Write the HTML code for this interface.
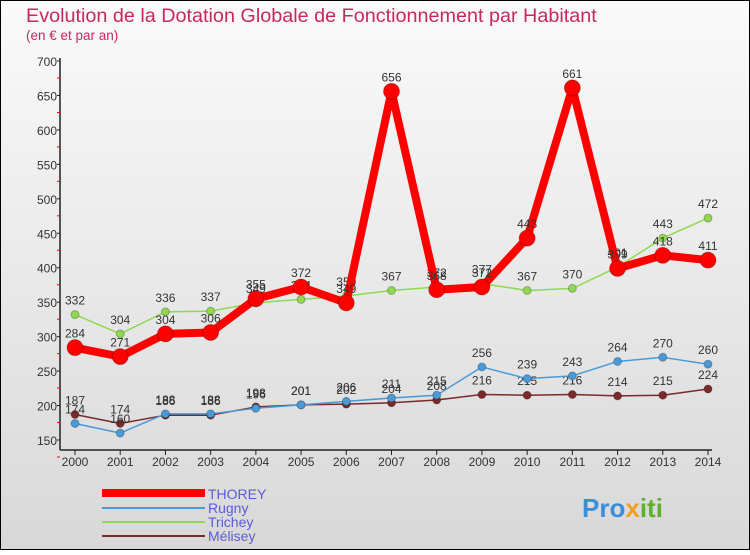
<!DOCTYPE html>
<html><head><meta charset="utf-8"><style>
body{margin:0;width:750px;height:550px;overflow:hidden;font-family:"Liberation Sans",sans-serif}
</style></head><body>
<svg width="750" height="550" xmlns="http://www.w3.org/2000/svg">
<defs><linearGradient id="bg" x1="0" y1="0" x2="0" y2="1"><stop offset="0" stop-color="#fafafa"/><stop offset="1" stop-color="#d8d8d8"/></linearGradient></defs>
<rect x="0.5" y="0.5" width="749" height="549" fill="url(#bg)" stroke="#000"/>
<text x="26" y="22" font-size="19.8" fill="#c8285a">Evolution de la Dotation Globale de Fonctionnement par Habitant</text>
<text x="26" y="40" font-size="13.5" fill="#c8285a">(en € et par an)</text>
<g id="axes"></g><g id="series"></g>
<g>
<line x1="102" y1="493" x2="205" y2="493" stroke="#f00" stroke-width="8"/>
<text x="208" y="499" font-size="14" fill="#5b5bd6">THOREY</text>
<line x1="102" y1="508" x2="205" y2="508" stroke="#4a9ad8" stroke-width="2"/>
<text x="208" y="513" font-size="14" fill="#5b5bd6">Rugny</text>
<line x1="102" y1="522" x2="205" y2="522" stroke="#8fd850" stroke-width="2"/>
<text x="208" y="527" font-size="14" fill="#5b5bd6">Trichey</text>
<line x1="102" y1="536" x2="205" y2="536" stroke="#7a2a2a" stroke-width="2"/>
<text x="208" y="541" font-size="14" fill="#5b5bd6">Mélisey</text>
</g>
<text x="582" y="517" font-size="26" font-weight="bold" fill="#3a8fd8">Pro<tspan fill="#f0a020">x</tspan><tspan fill="#60b030">iti</tspan></text>
</svg>
<script>
const years=[2000,2001,2002,2003,2004,2005,2006,2007,2008,2009,2010,2011,2012,2013,2014];
const yTicks=[150,200,250,300,350,400,450,500,550,600,650,700];
const thorey=[284,271,304,306,355,372,349,656,368,372,443,661,399,418,411];
const rugny=[174,160,188,188,196,201,206,211,215,256,239,243,264,270,260];
const trichey=[332,304,336,337,349,354,359,367,372,377,367,370,401,443,472];
const melisey=[187,174,186,186,198,201,202,204,208,216,215,216,214,215,224];
const NS="http://www.w3.org/2000/svg";
const x=i=>75+i*(708-75)/14;
const y=v=>440-(v-150)*(379/550);
function mk(t,a,p){const e=document.createElementNS(NS,t);for(const k in a)e.setAttribute(k,a[k]);p.appendChild(e);return e;}
const ax=document.getElementById('axes');
mk('line',{x1:60,y1:58,x2:60,y2:450,stroke:'#222','stroke-width':1.5},ax);
mk('line',{x1:60,y1:450,x2:712,y2:450,stroke:'#222','stroke-width':1.5},ax);
yTicks.forEach(v=>{
 const t=mk('text',{x:57,y:y(v)+5,'font-size':12,fill:'#333','text-anchor':'end'},ax);
 
 
 t.textContent=v;
 mk('line',{x1:57,y1:y(v),x2:60,y2:y(v),stroke:'#222'},ax);
 mk('line',{x1:57,y1:y(v)+17,x2:60,y2:y(v)+17,stroke:'#f00'},ax);
});
years.forEach((yr,i)=>{
 mk('line',{x1:x(i),y1:450,x2:x(i),y2:455,stroke:'#222'},ax);
 const t=mk('text',{x:x(i),y:466,'font-size':12,fill:'#333','text-anchor':'middle'},ax);
 
 
 t.textContent=yr;
});
const sg=document.getElementById('series');
function draw(vals,color,w,r,name){
 const g=mk('g',{},sg);
 
 
 mk('polyline',{points:vals.map((v,i)=>x(i)+','+y(v)).join(' '),fill:'none',stroke:color,'stroke-width':w,'stroke-linejoin':'round'},g);
 vals.forEach((v,i)=>{
  const c=mk('circle',{cx:x(i),cy:y(v),r:r,fill:color,stroke:'rgba(0,0,0,0.25)'},g);
  
  
  const t=mk('text',{x:x(i),y:y(v)-10,'font-size':12,fill:'#333','text-anchor':'middle'},g);
  
  
  t.textContent=v;
 });
}
draw(melisey,'#7a2a2a',1.5,4,'melisey');
draw(rugny,'#4a9ad8',1.5,4,'rugny');
draw(trichey,'#8fd850',1.5,4,'trichey');
draw(thorey,'#f00',8,8,'thorey');
</script>
</body></html>
